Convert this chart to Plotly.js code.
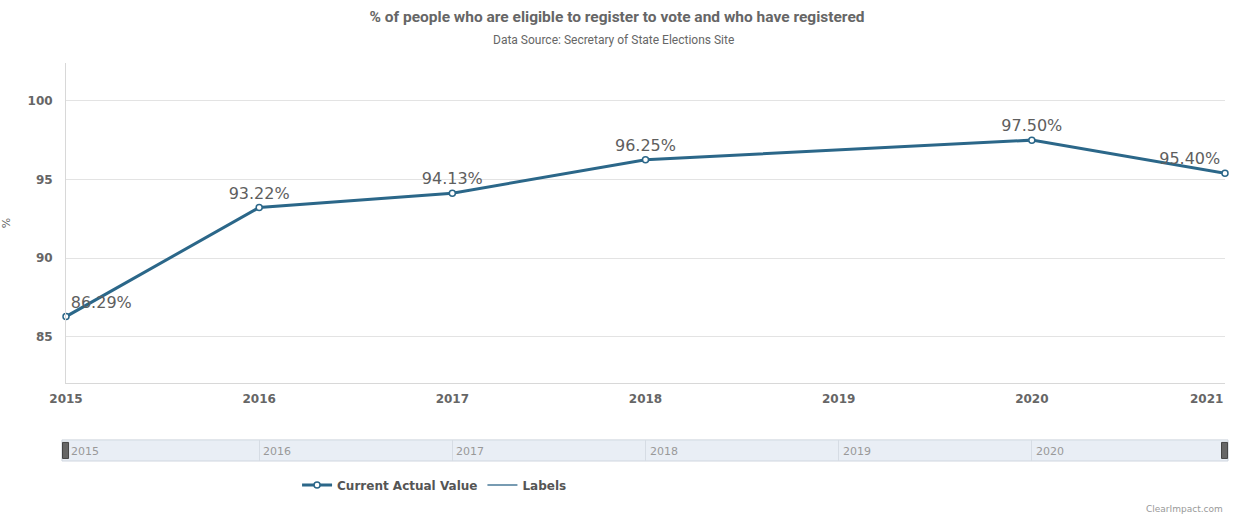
<!DOCTYPE html>
<html><head><meta charset="utf-8">
<script src="https://cdn.plot.ly/plotly-3.0.1.min.js"></script>
<style>html,body{margin:0;padding:0;background:#fff}#chart{width:1234px;height:517px}</style>
</head><body><div id="chart"></div>
<script>
const years = [2015, 2016, 2017, 2018, 2020, 2021];
const values = [86.29, 93.22, 94.13, 96.25, 97.50, 95.40];
const labels = ['86.29%', '93.22%', '94.13%', '96.25%', '97.50%', '95.40%'];
const tickYears = [2015, 2016, 2017, 2018, 2019, 2020, 2021];
const yTicks = [85, 90, 95, 100];
const navYears = [2015, 2016, 2017, 2018, 2019, 2020];

const lineColor = '#2b6789';
const textPos = labels.map((_, i) => i === 0 ? 'top right' : (i === labels.length - 1 ? 'top left' : 'top center'));

const traces = [
  {x: years, y: values, type: 'scatter', mode: 'lines+markers+text', name: 'Current Actual Value',
   line: {color: lineColor, width: 3}, marker: {size: 6, color: '#fff', line: {color: lineColor, width: 1.5}},
   text: labels, textposition: textPos, textfont: {family: 'DejaVu Sans', size: 16, color: '#5e5e5e'},
   cliponaxis: false, hoverinfo: 'skip'},
  {x: [null], y: [null], type: 'scatter', mode: 'lines', name: 'Labels',
   line: {color: '#4a7a98', width: 1.5}, hoverinfo: 'skip'},
  {x: [years[0], years[years.length-1]], y: [0, 0], xaxis: 'x2', yaxis: 'y2', mode: 'lines',
   line: {width: 0}, showlegend: false, hoverinfo: 'skip'}
];

const annotations = [
  {text: 'Data Source: Secretary of State Elections Site', xref: 'paper', yref: 'paper', x: 0.472, y: 1.058,
   xanchor: 'center', yanchor: 'middle', showarrow: false, font: {family: 'Roboto', size: 12, color: '#666'}},
  {text: 'ClearImpact.com', xref: 'paper', yref: 'paper', x: 1, y: -0.12, xanchor: 'right', yanchor: 'middle',
   showarrow: false, font: {family: 'DejaVu Sans', size: 9, color: '#999'}},
  {text: String(tickYears[tickYears.length-1]), xref: 'x', yref: 'paper', x: tickYears[tickYears.length-1], y: 0.156,
   xanchor: 'right', yanchor: 'middle', showarrow: false, font: {family: 'DejaVu Sans', size: 12, color: '#666', weight: 'bold'}}
];
navYears.forEach(yr => annotations.push({text: String(yr), xref: 'x2', yref: 'y2 domain', x: yr, y: 0.45,
  xanchor: 'left', yanchor: 'middle', xshift: yr === navYears[0] ? 3 : 2, showarrow: false,
  font: {family: 'DejaVu Sans', size: 11, color: '#999'}}));

const layout = {
  width: 1234, height: 517,
  margin: {l: 66, r: 9, t: 63, b: 56},
  paper_bgcolor: '#fff', plot_bgcolor: 'rgba(0,0,0,0)',
  title: {text: '<b>% of people who are eligible to register to vote and who have registered</b>',
          x: 0.5, xanchor: 'center', y: 0.968, yanchor: 'middle',
          font: {family: 'Roboto', size: 15.5, color: '#666'}},
  showlegend: true,
  legend: {orientation: 'h', x: 0.318, xanchor: 'center', y: -0.06, yanchor: 'middle',
           font: {family: 'DejaVu Sans', size: 12, color: '#555', weight: 'bold'}},
  xaxis: {range: [2015, 2021], domain: [0, 1], anchor: 'y', tickvals: tickYears.slice(0, -1),
          ticktext: tickYears.slice(0, -1).map(String), showgrid: false, zeroline: false,
          showline: true, linecolor: '#d8d8d8', linewidth: 1, ticks: '', ticklen: 0, ticklabelstandoff: 5,
          tickfont: {family: 'DejaVu Sans', size: 12, color: '#666', weight: 'bold'}},
  yaxis: {range: [82.07, 102.4], domain: [0.196, 1], anchor: 'x', tickvals: yTicks,
          showgrid: true, gridcolor: '#e3e3e3', gridwidth: 1, zeroline: false,
          showline: true, linecolor: '#d8d8d8', linewidth: 1, ticks: '', ticklabelstandoff: 10,
          tickfont: {family: 'DejaVu Sans', size: 12, color: '#666', weight: 'bold'},
          title: {text: '%', standoff: 22, font: {family: 'DejaVu Sans', size: 11, color: '#666'}}},
  xaxis2: {range: [2015, 2021], domain: [0, 1], anchor: 'y2', tickvals: navYears, showticklabels: false,
           showgrid: true, gridcolor: '#d6dce4', zeroline: false, showline: false, ticks: ''},
  yaxis2: {range: [0, 1], domain: [0, 0.053], anchor: 'x2', showgrid: false, showticklabels: false,
           zeroline: false, showline: false},
  shapes: [
    {type: 'rect', xref: 'paper', yref: 'y2 domain', x0: -0.0035, x1: 1.0026, y0: 0, y1: 1,
     fillcolor: '#e9eef5', line: {color: '#cfd6df', width: 1}, layer: 'below'},
    {type: 'rect', xref: 'paper', yref: 'y2 domain', x0: -0.0030, x1: 0.0022, y0: 0.12, y1: 0.88,
     fillcolor: '#666', line: {color: '#444', width: 1}},
    {type: 'rect', xref: 'paper', yref: 'y2 domain', x0: 0.9970, x1: 1.0022, y0: 0.12, y1: 0.88,
     fillcolor: '#666', line: {color: '#444', width: 1}}
  ],
  annotations: annotations
};

Plotly.newPlot('chart', traces, layout, {displayModeBar: false, staticPlot: true});
</script></body></html>
